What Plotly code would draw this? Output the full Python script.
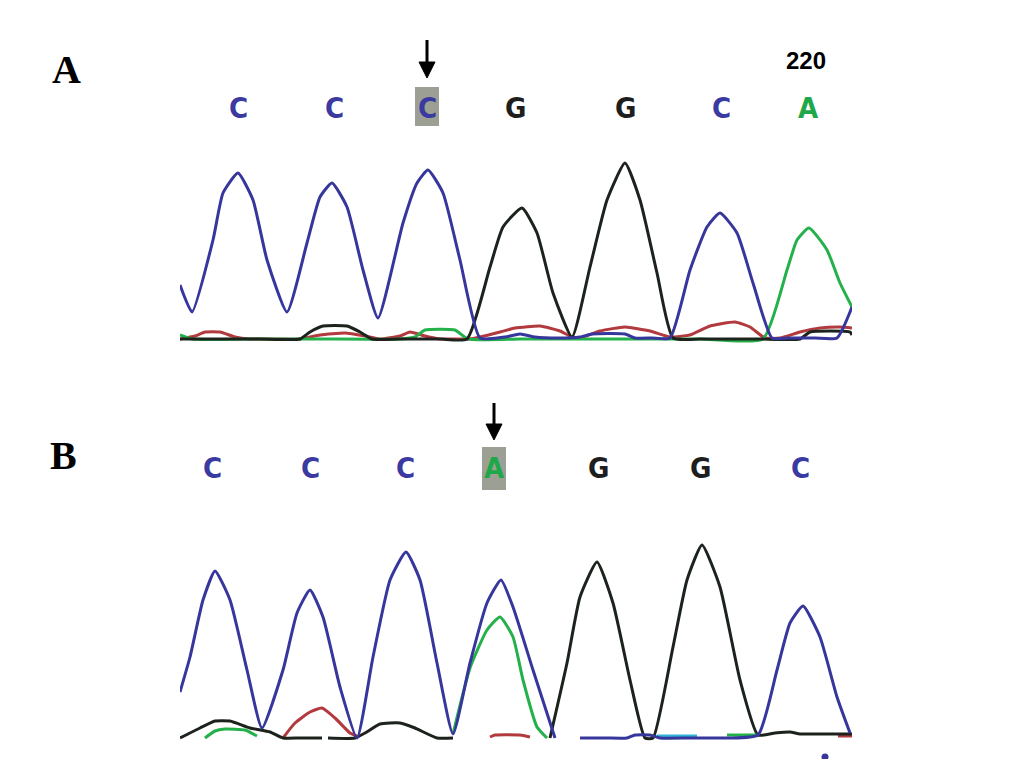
import plotly.graph_objects as go

# ---------------- data ----------------
# Panel A (heights above baseline, x = scan position)
A_blue_x = [180, 192, 213, 223, 238, 253, 267, 287, 307, 320, 332, 347, 363, 378, 403, 417, 428, 443, 460, 480,
            505, 520, 535, 558, 580, 592, 625, 635, 652, 670, 690, 707, 720, 737, 753, 772, 790, 815, 837, 852]
A_blue_y = [55, 28, 100, 147, 167, 140, 80, 28, 97, 143, 157, 133, 70, 22, 117, 157, 170, 147, 80, 2,
            3, 6, 3, 2, 3, 6, 6, 2, 2, 2, 70, 113, 127, 107, 57, 2, 2, 2, 2, 33]
A_black_x = [180, 220, 260, 300, 310, 323, 347, 360, 372, 400, 440, 467, 490, 503, 522, 537, 553, 572, 590, 607,
             625, 640, 657, 673, 700, 730, 760, 800, 810, 850, 852]
A_black_y = [1, 1, 1, 1, 8, 14, 14, 8, 1, 1, 1, 1, 73, 113, 132, 107, 47, 3, 73, 140,
             177, 140, 67, 2, 1, 1, 1, 1, 8, 8, 5]
A_green_x = [180, 192, 250, 320, 400, 415, 425, 455, 468, 520, 580, 640, 700, 763, 787, 797, 809, 827, 840, 852]
A_green_y = [5, 1, 1, 1, 1, 3, 10, 10, 1, 1, 1, 1, 1, 1, 70, 100, 112, 90, 57, 33]
A_red_x = [180, 195, 205, 220, 235, 250, 275, 300, 320, 345, 365, 380, 400, 410, 425, 440, 455, 470, 480, 500, 515,
           540, 560, 572, 580, 600, 625, 650, 670, 690, 710, 735, 750, 765, 780, 800, 820, 840, 852]
A_red_y = [1, 4, 8, 8, 3, 1, 1, 1, 5, 7, 4, 1, 4, 8, 4, 1, 1, 1, 3, 8, 12,
           14, 9, 3, 2, 9, 13, 9, 3, 5, 14, 18, 13, 2, 2, 8, 12, 13, 12]

A_bases = ["C", "C", "C", "G", "G", "C", "A"]
A_base_pos = [238, 334, 427, 515, 625, 721, 808]
A_mut_index = 2
A_number = "220"
A_number_pos = 806

# Panel B
B_blue_x = [180, 190, 203, 215, 230, 247, 262, 283, 297, 310, 323, 340, 357, 373, 390, 406, 420, 437, 453,
            470, 487, 501, 513, 533, 555, None, 580, 605, 627, 635, 650, 660, 690, 727, 758, 777, 790, 803, 820, 837, 850]
B_blue_y = [46, 81, 138, 167, 138, 68, 10, 68, 125, 148, 121, 51, 0, 81, 158, 186, 158, 75, 4,
            75, 135, 158, 131, 68, 0, None, 0, 0, 0, 3, 3, 0, 0, 0, 3, 68, 115, 132, 101, 41, 5]
B_black_x = [180, 200, 215, 230, 250, 270, 283, 300, 322, None, 328, 355, 365, 380, 400, 415, 437, 453, None,
             550, 567, 580, 597, 613, 630, 645, 653, 673, 687, 702, 720, 740, 758, 775, 790, 800, 820, 840, 852]
B_black_y = [0, 10, 17, 17, 10, 6, 0, 0, 0, None, 0, 0, 5, 14, 15, 10, 0, 0, None,
             0, 75, 141, 176, 135, 58, 0, 0, 91, 158, 193, 151, 58, 3, 5, 6, 4, 4, 4, 4]
B_green_x = [205, 215, 225, 245, 257, None, 453, 470, 487, 500, 513, 523, 537, 547, None, 727, 758]
B_green_y = [0, 7, 9, 8, 2, None, 4, 70, 108, 121, 101, 58, 11, 0, None, 3, 3]
B_red_x = [283, 295, 310, 322, 335, 350, 357, None, 490, 495, 520, 530, None, 838, 852]
B_red_y = [0, 15, 26, 30, 20, 5, 2, None, 1, 3, 3, 1, None, 2, 2]
B_cyan_x = [657, 697]
B_cyan_y = [2, 2]
B_dot_x = [825]
B_dot_y = [-19]

B_bases = ["C", "C", "C", "A", "G", "G", "C"]
B_base_pos = [212, 310, 405, 494, 598, 700, 800]
B_mut_index = 3

# ---------------- style ----------------
COL = {"blue": "#36369c", "black": "#1c221c", "green": "#24b04a", "red": "#b23a3e", "cyan": "#2fb3d6"}
BASE_COL = {"C": "#3a3aa0", "G": "#1e1e1e", "A": "#1fa84a"}
PAGE_W, PAGE_H = 1033, 767
OFF = 8  # default page body margin
W, H = PAGE_W - 2 * OFF, PAGE_H - 2 * OFF
X0, X1 = 180, 852


def px(xp):
    return (xp - OFF) / W


def py(yp):
    return 1 - (yp - OFF) / H


fig = go.Figure()


def add_trace(x, y, color, xa, ya, width=3):
    fig.add_trace(go.Scatter(x=x, y=y, mode="lines", line=dict(color=color, width=width, shape="spline", smoothing=0.5),
                             xaxis=xa, yaxis=ya, hoverinfo="skip", showlegend=False, connectgaps=False))


# Panel A traces
add_trace(A_red_x, A_red_y, COL["red"], "x", "y")
add_trace(A_green_x, A_green_y, COL["green"], "x", "y")
add_trace(A_black_x, A_black_y, COL["black"], "x", "y")
add_trace(A_blue_x, A_blue_y, COL["blue"], "x", "y")
# Panel B traces
add_trace(B_red_x, B_red_y, COL["red"], "x2", "y2")
add_trace(B_cyan_x, B_cyan_y, COL["cyan"], "x2", "y2")
add_trace(B_black_x, B_black_y, COL["black"], "x2", "y2")
add_trace(B_green_x, B_green_y, COL["green"], "x2", "y2")
add_trace(B_blue_x, B_blue_y, COL["blue"], "x2", "y2")
fig.add_trace(go.Scatter(x=B_dot_x, y=B_dot_y, mode="markers",
                         marker=dict(color=COL["blue"], size=7, symbol="circle"), cliponaxis=False,
                         xaxis="x2", yaxis="y2", hoverinfo="skip", showlegend=False))

# 1 data unit = 1 pixel.  Panel A baseline at page y=340 (axis spans 20..380);
# panel B baseline at page y=738 (axis spans 400..758)
fig.update_layout(
    width=W, height=H, margin=dict(l=0, r=0, t=0, b=0),
    paper_bgcolor="white", plot_bgcolor="white",
    xaxis=dict(domain=[px(X0), px(X1)], range=[X0, X1], visible=False, fixedrange=True),
    yaxis=dict(domain=[py(380), py(20)], range=[-40, 320], visible=False, fixedrange=True),
    xaxis2=dict(domain=[px(X0), px(X1)], range=[X0, X1], visible=False, fixedrange=True),
    yaxis2=dict(domain=[py(758), py(400)], range=[-20, 338], visible=False, fixedrange=True),
)

letter_font = "DejaVu Sans Condensed, Liberation Sans Narrow, Arial"


def add_bases(bases, pos, mut, y_letter, box_lo, box_hi, arrow_tail, arrow_tip, xa, ya):
    for i, (b, p) in enumerate(zip(bases, pos)):
        if i == mut:
            fig.add_shape(type="rect", xref=xa, yref=ya, x0=p - 12, x1=p + 12, y0=box_lo, y1=box_hi,
                          fillcolor="#9ca094", line=dict(width=0), layer="below")
        fig.add_annotation(x=p, y=y_letter, xref=xa, yref=ya, text="<b>%s</b>" % b, showarrow=False,
                           font=dict(family=letter_font, size=29, color=BASE_COL[b]))
    ax = pos[mut]
    fig.add_shape(type="line", xref=xa, yref=ya, x0=ax, x1=ax, y0=arrow_tail, y1=arrow_tip + 12,
                  line=dict(color="black", width=3))
    fig.add_shape(type="path", xref=xa, yref=ya,
                  path="M %f,%f L %f,%f L %f,%f Z" % (ax - 8, arrow_tip + 16, ax + 8, arrow_tip + 16, ax, arrow_tip),
                  fillcolor="black", line=dict(color="black", width=1))


add_bases(A_bases, A_base_pos, A_mut_index, 232, 214, 253, 300, 262, "x", "y")
add_bases(B_bases, B_base_pos, B_mut_index, 270, 248, 291, 335, 298, "x2", "y2")

fig.add_annotation(x=A_number_pos, y=280, xref="x", yref="y", text="<b>%s</b>" % A_number, showarrow=False,
                   font=dict(family="Liberation Sans, Arial", size=24, color="black"))

# Panel labels
fig.add_annotation(x=px(50), y=py(45), xref="paper", yref="paper", text="<b>A</b>", showarrow=False,
                   font=dict(family="Liberation Serif, Times New Roman", size=40, color="black"))
fig.add_annotation(x=px(48), y=py(455), xref="paper", yref="paper", text="<b>B</b>", showarrow=False,
                   font=dict(family="Liberation Serif, Times New Roman", size=40, color="black"))

fig.write_html("out.html")
